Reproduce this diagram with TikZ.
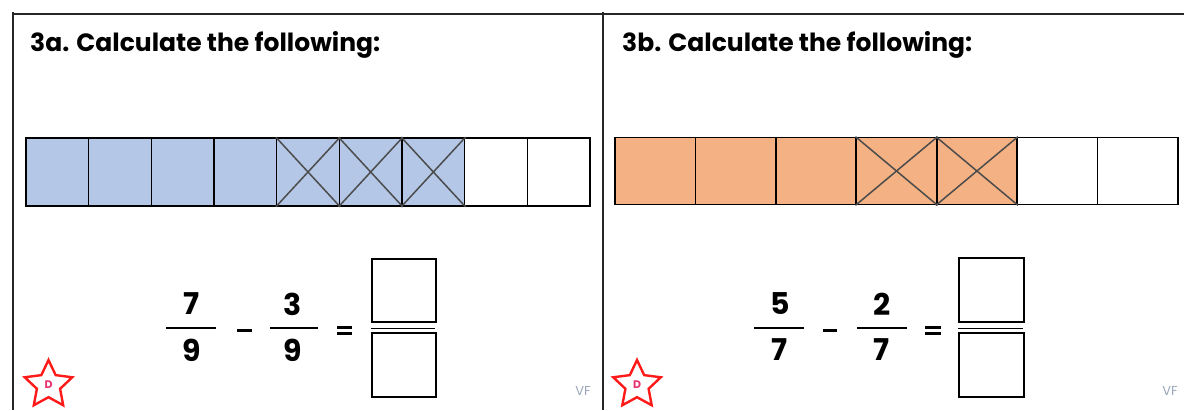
\documentclass[tikz,border=0pt]{standalone}
\usepackage{fontspec}
\setmainfont{Poppins}
\usetikzlibrary{shapes.geometric}
\definecolor{barblue}{HTML}{B4C7E7}
\definecolor{barorange}{HTML}{F4B183}
\definecolor{vfgrey}{HTML}{9AA6BA}
\definecolor{starred}{HTML}{FF1A1A}
\definecolor{dpink}{HTML}{E8306E}
\tikzset{
  frame/.style={line width=1.8pt, draw=black!85},
  cell/.style={draw=black, line width=1.6pt, inner sep=0pt, minimum height=68pt},
  xline/.style={line width=1.5pt, draw=black!70},
  title/.style={anchor=base west, inner sep=0pt, font=\fontsize{25}{28}\selectfont\bfseries},
  num/.style={inner sep=0pt, font=\fontsize{30}{33}\selectfont\bfseries},
  fracbar/.style={line width=1.6pt},
  opbar/.style={fill=black},
  ansbox/.style={draw=black, line width=1.6pt, inner sep=0pt},
  starmark/.style={star, star points=5, star point ratio=2.05, draw=starred, line width=2.4pt, fill=white, minimum size=50pt, inner sep=0pt},
  dlabel/.style={text=dpink, inner sep=0pt, font=\fontsize{11}{12}\selectfont\bfseries},
  vf/.style={text=vfgrey, inner sep=0pt, font=\fontsize{13}{14}\selectfont}
}
\begin{document}
\begin{tikzpicture}[x=1pt,y=-1pt]
\useasboundingbox (0,0) rectangle (1184,410);
% frame
\coordinate (tl) at (12,14);
\coordinate (tr) at (1184,14);
\coordinate (lb) at (13,410);
\coordinate (lt) at (13,12);
\coordinate (mt) at (603,12);
\coordinate (mb) at (603,410);
\draw[frame] (tl) -- (tr);
\draw[frame] (lt) -- (lb);
\draw[frame] (mt) -- (mb);
% titles
\node[title] (ta) at (30,51) {3a. Calculate the following:};
\node[title] (tb) at (622,51) {3b. Calculate the following:};
% bar 3a
\foreach \i in {0,...,8}{
  \pgfmathsetmacro{\cx}{26+62.67*(\i+0.5)}
  \ifnum\i<7
    \node[cell, fill=barblue, minimum width=62.67pt] (a\i) at (\cx,172) {};
  \else
    \node[cell, fill=white, minimum width=62.67pt] (a\i) at (\cx,172) {};
  \fi
}
\foreach \i in {4,5,6}{
  \draw[xline] (a\i.north west) -- (a\i.south east);
  \draw[xline] (a\i.south west) -- (a\i.north east);
}
% bar 3b
\foreach \i in {0,...,6}{
  \pgfmathsetmacro{\cx}{615+80.43*(\i+0.5)}
  \ifnum\i<5
    \node[cell, fill=barorange, minimum width=80.43pt, minimum height=67pt] (b\i) at (\cx,171) {};
  \else
    \node[cell, fill=white, minimum width=80.43pt, minimum height=67pt] (b\i) at (\cx,171) {};
  \fi
}
\foreach \i in {3,4}{
  \draw[xline] (b\i.north west) -- (b\i.south east);
  \draw[xline] (b\i.south west) -- (b\i.north east);
}
% fractions 3a
\node[num] (na1) at (192,304) {7};
\node[num] (da1) at (192,350) {9};
\draw[fracbar] (166,328) -- (216,328);
\node[num] (na2) at (293,304) {3};
\node[num] (da2) at (293,350) {9};
\draw[fracbar] (270,328) -- (318,328);
\fill[opbar] (237,328.5) rectangle (252,331.8);
\fill[opbar] (337,325.5) rectangle (352,328.8);
\fill[opbar] (337,331.5) rectangle (352,334.8);
\node[ansbox, minimum width=64pt, minimum height=63pt] (qa1) at (404,290.5) {};
\node[ansbox, minimum width=64pt, minimum height=64pt] (qa2) at (404,365) {};
\draw[fracbar] (qa1.south west) ++(0,5.5) -- ++(64,0);
% fractions 3b
\node[num] (nb1) at (780,304) {5};
\node[num] (db1) at (780,350) {7};
\draw[fracbar] (754,328) -- (804,328);
\node[num] (nb2) at (882,304) {2};
\node[num] (db2) at (882,350) {7};
\draw[fracbar] (857,328) -- (907,328);
\fill[opbar] (823,328.5) rectangle (837,331.8);
\fill[opbar] (925,325.5) rectangle (941,328.8);
\fill[opbar] (925,331.5) rectangle (941,334.8);
\node[ansbox, minimum width=65pt, minimum height=64pt] (qb1) at (991.5,290) {};
\node[ansbox, minimum width=65pt, minimum height=64pt] (qb2) at (991.5,365) {};
\draw[fracbar] (qb1.south west) ++(0,5.5) -- ++(65,0);
% stars
\node[starmark] (sa) at (48.5,385) {};
\node[dlabel] (sad) at (sa.center) {D};
\node[starmark] (sb) at (637,385) {};
\node[dlabel] (sbd) at (sb.center) {D};
% VF
\node[vf] (vfa) at (583,391) {VF};
\node[vf] (vfb) at (1170,391) {VF};
\end{tikzpicture}
\end{document}
